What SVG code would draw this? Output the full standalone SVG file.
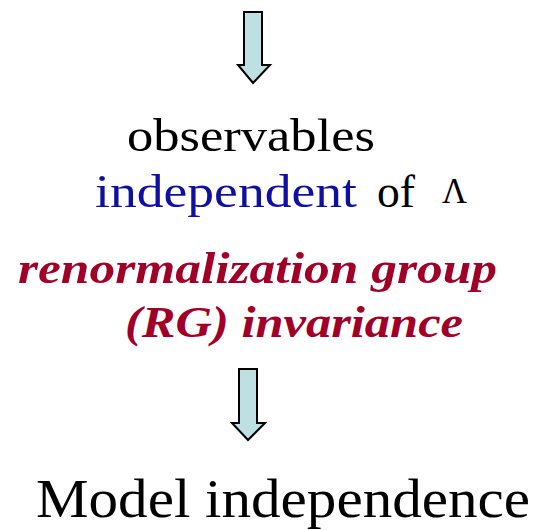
<svg xmlns="http://www.w3.org/2000/svg" width="540" height="530" viewBox="0 0 540 530">
<style>
.t{font-family:"Liberation Serif","Times New Roman",serif;}
.blk{fill:#000;}
.blu{fill:#1010a0;}
.red{fill:#a00028;font-weight:bold;font-style:italic;}
.arr{fill:#bfe0e2;stroke:#000;stroke-width:2;stroke-linejoin:miter;}
</style>
<rect width="540" height="530" fill="#fff"/>
<g id="connectors">
<path class="arr" d="M244,12 H262 V65 H270 L253,83 L238,65 H244 Z"/>
<path class="arr" d="M239,369 H257 V423 H265 L248,440 L232,423 H239 Z"/>
</g>
<g id="observables"><text class="t blk" x="127" y="151" font-size="46" textLength="248" lengthAdjust="spacingAndGlyphs">observables</text></g>
<g id="independent">
<text class="t blu" x="95" y="207" font-size="46" textLength="262" lengthAdjust="spacingAndGlyphs">independent</text>
<text class="t blk" x="377" y="207" font-size="46" textLength="38" lengthAdjust="spacingAndGlyphs">of</text>
<text class="t blk" x="442" y="203" font-size="36" textLength="25" lengthAdjust="spacingAndGlyphs">Λ</text>
</g>
<g id="rg">
<text class="t red" x="18" y="283" font-size="45" textLength="479" lengthAdjust="spacingAndGlyphs">renormalization group</text>
<text class="t red" x="125" y="337" font-size="45" textLength="338" lengthAdjust="spacingAndGlyphs">(RG) invariance</text>
</g>
<g id="model"><text class="t blk" x="36" y="517" font-size="54" textLength="494" lengthAdjust="spacingAndGlyphs">Model independence</text></g>
</svg>
